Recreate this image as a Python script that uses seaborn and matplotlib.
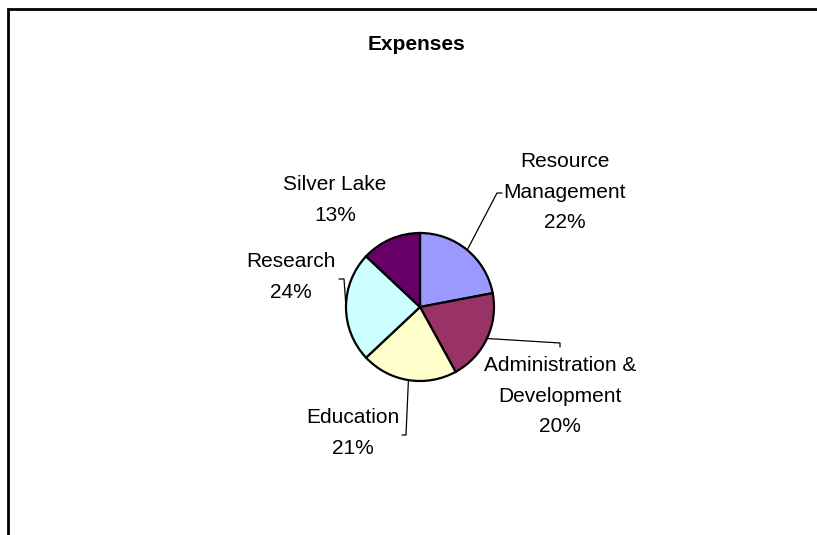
import numpy as np
import matplotlib
matplotlib.use("Agg")
import matplotlib.pyplot as plt
import seaborn as sns

# Expenses pie data
categories = ["Resource\nManagement", "Administration &\nDevelopment", "Education",
              "Research", "Silver Lake"]
shares = [22, 20, 21, 24, 13]
colors = ["#9999FF", "#993366", "#FFFFCC", "#CCFFFF", "#660066"]

W, H = 817, 535
sns.set_theme(style="white")
plt.rcParams["font.family"] = ["Liberation Sans", "DejaVu Sans"]

fig = plt.figure(figsize=(W / 100, H / 100), dpi=100)
ax = fig.add_axes([0, 0, 1, 1])

def py(y):
    # pixel row (from top) -> data y
    return H - y

cx, cy, r = 420, 307, 74
wedges, _ = ax.pie(shares, colors=colors, startangle=90, counterclock=False,
                   center=(cx, py(cy)), radius=r, frame=True,
                   wedgeprops=dict(edgecolor="black", linewidth=1.6))
ax.set_xlim(0, W)
ax.set_ylim(0, H)
ax.axis("off")

# label layout (pixel coords from top-left) and leader-line elbows
label_xy = [(565, 192), (560, 396), (353, 433), (291, 277), (335, 200)]
leader = [[(497, 193), (502, 193)],
          [(560, 343), (560, 347)],
          [(406, 435), (402, 435)],
          [(344, 279), (339, 279)],
          None]

for w, name, s, (lx, ly), pts in zip(wedges, categories, shares, label_xy, leader):
    ax.text(lx, py(ly), f"{name}\n{s}%", ha="center", va="center",
            fontsize=15, color="black", linespacing=1.75)
    if pts:
        mid = np.deg2rad((w.theta1 + w.theta2) / 2)
        x0, y0 = cx + r * np.cos(mid), py(cy) + r * np.sin(mid)
        xs = [x0] + [p[0] for p in pts]
        ys = [y0] + [py(p[1]) for p in pts]
        ax.plot(xs, ys, color="black", linewidth=0.9)

ax.text(417, py(44), "Expenses", ha="center", va="center",
        fontsize=15, fontweight="bold", color="black")

# chart border (cut off at right and bottom)
ax.plot([8, 8, W + 5], [-5, py(9), py(9)], color="black", linewidth=2,
        solid_joinstyle="miter", clip_on=False)

fig.savefig("out.png", dpi=100, facecolor="white")
